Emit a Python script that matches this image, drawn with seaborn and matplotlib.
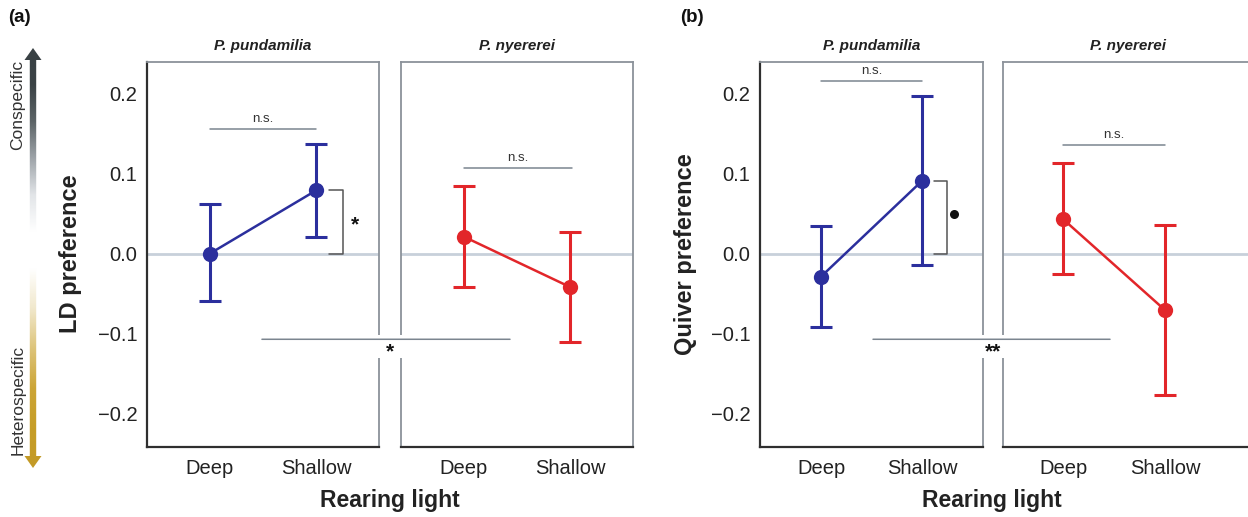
import numpy as np
import pandas as pd
import matplotlib
matplotlib.use("Agg")
import matplotlib.pyplot as plt
import seaborn as sns
from matplotlib.colors import LinearSegmentedColormap
from matplotlib.patches import Polygon, Rectangle, ConnectionPatch

# data (mean and error bar ends)
species = ["P. pundamilia", "P. nyererei"]
light = ["Deep", "Shallow"]

ld_mean = [0.000, 0.079, 0.021, -0.042]
ld_lo = [-0.060, 0.021, -0.042, -0.111]
ld_hi = [0.062, 0.137, 0.085, 0.027]

qv_mean = [-0.029, 0.091, 0.043, -0.071]
qv_lo = [-0.092, -0.014, -0.026, -0.177]
qv_hi = [0.035, 0.197, 0.114, 0.036]

colors = {"P. pundamilia": "#2b2f9d", "P. nyererei": "#e2262a"}

W, H = 1248, 517
FRAME = "#8b929a"
DARK = "#2f2f2f"
SIG = "#7b858f"


def make_df(mean, lo, hi):
    return pd.DataFrame({
        "species": np.repeat(species, 2),
        "light": light * 2,
        "x": [0, 1] * 2,
        "mean": mean,
        "lo": lo,
        "hi": hi,
    })


def px_box(x0, y0, x1, y1):
    return [x0 / W, 1 - y1 / H, (x1 - x0) / W, (y1 - y0) / H]


def draw_facet(ax, sub, color, first, xlim):
    ax.axhline(0, color="#c8d0da", lw=2, zorder=0)
    ax.errorbar(sub["x"], sub["mean"],
                yerr=[sub["mean"] - sub["lo"], sub["hi"] - sub["mean"]],
                fmt="none", ecolor=color, elinewidth=2.2, capsize=8, capthick=2.2, zorder=2)
    sns.lineplot(data=sub, x="x", y="mean", color=color, marker="o", markersize=11,
                 markeredgewidth=0, lw=1.8, ax=ax, zorder=3)
    ax.set_xlim(*xlim)
    ax.set_ylim(-0.2425, 0.24)
    ax.set_xlabel("")
    ax.set_ylabel("")
    ax.set_xticks([0, 1])
    ax.set_xticklabels(light)
    ticks = [-0.2, -0.1, 0.0, 0.1, 0.2]
    ax.set_yticks(ticks)
    ax.set_yticklabels([f"{t:.1f}".replace("-", "\u2212") for t in ticks])
    ax.tick_params(axis="x", length=4, width=1.3, color=DARK, labelsize=14.5, pad=5,
                   labelcolor="#222222")
    if first:
        ax.tick_params(axis="y", length=4, width=1.3, color=DARK, labelsize=14.5, pad=3,
                       labelcolor="#222222")
    else:
        ax.tick_params(axis="y", left=False, labelleft=False)
    for side, sp in ax.spines.items():
        sp.set_visible(True)
        sp.set_color(FRAME)
        sp.set_linewidth(1.3)
    ax.spines["bottom"].set_color(DARK)
    ax.spines["bottom"].set_linewidth(1.6)
    if first:
        ax.spines["left"].set_color(DARK)
        ax.spines["left"].set_linewidth(1.6)


def sig_bar(ax, y, x0=0, x1=1):
    ax.plot([x0, x1], [y, y], color=SIG, lw=1.1, zorder=1)
    ax.text((x0 + x1) / 2, y + 0.005, "n.s.", ha="center", va="bottom",
            fontsize=9.5, color="#333333")


def bracket(ax, ytop, x_in=1.12, x_out=1.25):
    ax.plot([x_in, x_out, x_out, x_in], [ytop, ytop, 0, 0], color="#555555", lw=1.1,
            zorder=1, clip_on=False)


def grad_arrow(ax, x, y_tail, y_tip, cols):
    d = 1 if y_tip > y_tail else -1
    hl, sw, hw = 12, 3.2, 8.5
    pts = [(x - sw, y_tail), (x - sw, y_tip - d * hl), (x - hw, y_tip - d * hl), (x, y_tip),
           (x + hw, y_tip - d * hl), (x + sw, y_tip - d * hl), (x + sw, y_tail)]
    poly = Polygon(pts, closed=True, fill=False, lw=0)
    ax.add_patch(poly)
    cmap = LinearSegmentedColormap.from_list("g", cols)
    grad = np.linspace(0, 1, 256).reshape(-1, 1)
    im = ax.imshow(grad, cmap=cmap, origin="lower", aspect="auto",
                   extent=(x - 10, x + 10, y_tail, y_tip), interpolation="bilinear")
    im.set_clip_path(poly)


sns.set_theme(style="white")
plt.rcParams["font.family"] = ["Liberation Sans", "DejaVu Sans"]

fig = plt.figure(figsize=(W / 100, H / 100), dpi=100)

# decoration layer in pixel coordinates
deco = fig.add_axes([0, 0, 1, 1], zorder=-1)
deco.set_xlim(0, W)
deco.set_ylim(H, 0)
deco.set_axis_off()
grad_arrow(deco, 33, 232, 48, ["#ffffff", "#e2e5e8", "#9ea4a9", "#5c6467", "#3b4346", "#394144"])
grad_arrow(deco, 33, 268, 468, ["#ffffff", "#f1e8cc", "#ddc47a", "#cca536", "#c69d27", "#c39a26"])
fig.text(18 / W, 1 - 105 / H, "Conspecific", rotation=90, ha="center", va="center",
         fontsize=12.5, color="#333333")
fig.text(18 / W, 1 - 400 / H, "Heterospecific", rotation=90, ha="center", va="center",
         fontsize=12.5, color="#333333")

panels = [
    dict(df=make_df(ld_mean, ld_lo, ld_hi), label="(a)", lab_x=8, ylabel="LD preference",
         ylab_x=70, xlab_x=390,
         boxes=[(147, 62, 379, 447), (401, 62, 633, 447)],
         xlims=[(-0.594, 1.594), (-0.594, 1.594)],
         ns=[(0.156, 0, 1), (0.1075, 0, 1.02)],
         bracket=0.079, mark=("star", 1.33, 0.036),
         cross=(0.49, 0.434, -0.1075), cross_star=("*", 390, 352), gap=(371, 409)),
    dict(df=make_df(qv_mean, qv_lo, qv_hi), label="(b)", lab_x=680, ylabel="Quiver preference",
         ylab_x=685, xlab_x=992,
         boxes=[(760, 62, 983, 447), (1003, 62, 1252, 447)],
         xlims=[(-0.604, 1.604), (-0.59, 1.853)],
         ns=[(0.216, 0, 1), (0.136, 0, 1)],
         bracket=0.091, mark=("dot", 1.32, 0.049),
         cross=(0.515, 0.46, -0.1075), cross_star=("**", 993, 352), gap=(975, 1011)),
]

for p in panels:
    axes = []
    for i, sp in enumerate(species):
        ax = fig.add_axes(px_box(*p["boxes"][i]))
        sub = p["df"][p["df"]["species"] == sp]
        draw_facet(ax, sub, colors[sp], i == 0, p["xlims"][i])
        y, x0, x1 = p["ns"][i]
        sig_bar(ax, y, x0, x1)
        bx0, _, bx1, _ = p["boxes"][i]
        fig.text((bx0 + bx1) / 2 / W, 1 - 46 / H, sp, ha="center", va="center",
                 fontsize=11, fontweight="bold", fontstyle="italic", color="#222222")
        axes.append(ax)

    # bracket between zero and the shallow mean of P. pundamilia
    bracket(axes[0], p["bracket"])
    kind, mx, my = p["mark"]
    if kind == "star":
        axes[0].text(mx, my, "*", ha="left", va="center", fontsize=15, color="#111111",
                     fontweight="bold")
    else:
        axes[0].plot([mx], [my], marker="o", markersize=6.5, color="#111111",
                     markeredgewidth=0, clip_on=False)

    # white gap in the frames behind the between-species star
    g0, g1 = p["gap"]
    fig.add_artist(Rectangle((g0 / W, 1 - 358 / H), (g1 - g0) / W, 23 / H,
                             transform=fig.transFigure, facecolor="white",
                             edgecolor="none", zorder=2))
    xa, xb, yc = p["cross"]
    con = ConnectionPatch(xyA=(xa, yc), coordsA=axes[0].transData,
                          xyB=(xb, yc), coordsB=axes[1].transData,
                          color=SIG, lw=1.1, zorder=3)
    fig.add_artist(con)
    s, sx, sy = p["cross_star"]
    fig.text(sx / W, 1 - sy / H, s, ha="center", va="center", fontsize=15,
             fontweight="bold", color="#111111", zorder=4)

    fig.text(p["ylab_x"] / W, 1 - 254 / H, p["ylabel"], rotation=90, ha="center",
             va="center", fontsize=17, fontweight="bold", color="#222222")
    fig.text(p["xlab_x"] / W, 1 - 500 / H, "Rearing light", ha="center", va="center",
             fontsize=16.5, fontweight="bold", color="#222222")
    fig.text(p["lab_x"] / W, 1 - 18 / H, p["label"], ha="left", va="center",
             fontsize=13.5, fontweight="bold", color="#111111")

fig.savefig("out.png", dpi=100)
